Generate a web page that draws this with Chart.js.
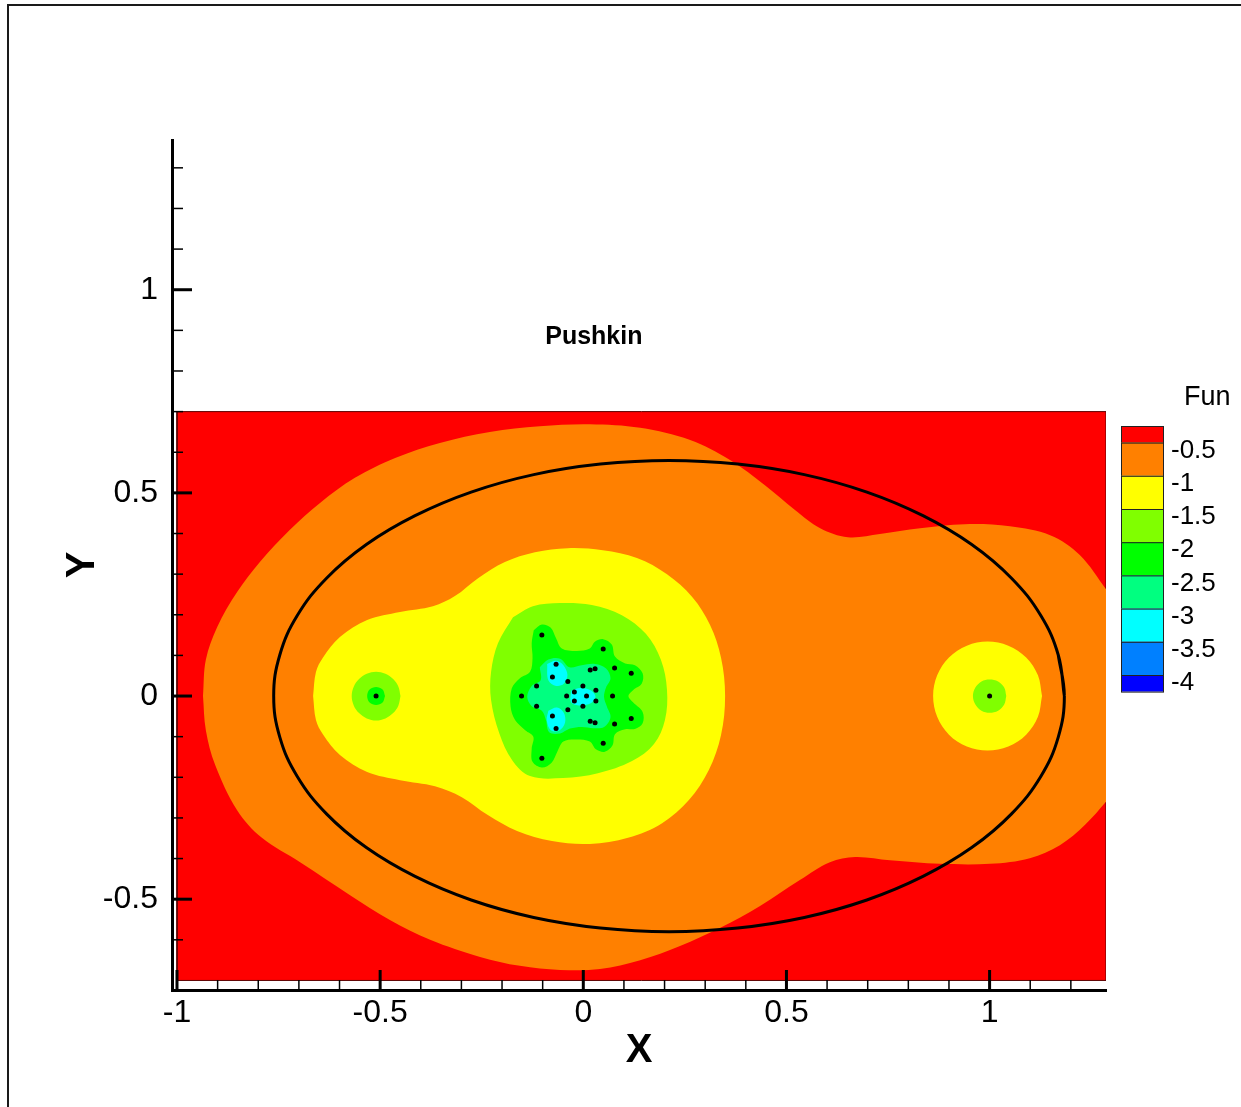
<!DOCTYPE html>
<html>
<head>
<meta charset="utf-8">
<title>Pushkin</title>
<script src="https://cdn.jsdelivr.net/npm/chart.js@4.4.1/dist/chart.umd.min.js"></script>
<style>
  html, body { margin: 0; padding: 0; background: #fff; }
  #wrap { position: relative; width: 1241px; height: 1107px; overflow: hidden; }
  #chart { position: absolute; left: 0; top: 0; }
  #frame { position: absolute; left: 7px; top: 4px; width: 1260px; height: 1130px;
           border-left: 2px solid #1a1a1a; border-top: 2px solid #1a1a1a; pointer-events: none; }
</style>
</head>
<body>
<div id="wrap">
  <canvas id="chart" width="1241" height="1107"></canvas>
  <div id="frame"></div>
</div>
<script>
// contour levels and the colours between them (Tecplot small rainbow)
const levels = [-0.5, -1, -1.5, -2, -2.5, -3, -3.5, -4];
const levelColors = ["#ff0000", "#ff8000", "#ffff00", "#80ff00", "#00ff00", "#00ff80", "#00ffff", "#0080ff", "#0000ff"];

const xTicks = [-1, -0.9, -0.8, -0.7, -0.6, -0.5, -0.4, -0.3, -0.2, -0.1, 0, 0.1, 0.2, 0.3, 0.4, 0.5, 0.6, 0.7, 0.8, 0.9, 1, 1.1, 1.2];
const yTicks = [-0.6, -0.5, -0.4, -0.3, -0.2, -0.1, 0, 0.1, 0.2, 0.3, 0.4, 0.5, 0.6, 0.7, 0.8, 0.9, 1, 1.1, 1.2, 1.3];
const majorTicks = [-1, -0.5, 0, 0.5, 1];

// field domain (everything here is Fun > -0.5)
const redZone = [[-1, -0.7], [1.2865, -0.7], [1.2865, 0.7], [-1, 0.7], [-1, -0.7]];

// Fun < -0.5
const orangeZone = [
    [-0.936, 0], [-0.929, 0.089], [-0.901, 0.170], [-0.852, 0.256], [-0.796, 0.330], [-0.722, 0.409],
    [-0.648, 0.475], [-0.562, 0.537], [-0.463, 0.586], [-0.353, 0.623], [-0.230, 0.650], [-0.107, 0.664],
    [0.016, 0.669], [0.140, 0.660], [0.263, 0.630], [0.361, 0.581], [0.447, 0.519], [0.521, 0.458],
    [0.583, 0.413], [0.651, 0.391], [0.730, 0.399], [0.829, 0.413], [0.939, 0.423], [1.050, 0.418],
    [1.149, 0.396], [1.222, 0.347], [1.300, 0.245], [1.340, 0.200], [1.340, -0.200], [1.300, -0.245],
    [1.235, -0.317], [1.173, -0.367], [1.099, -0.399], [1.001, -0.413], [0.878, -0.413], [0.755, -0.404],
    [0.669, -0.396], [0.607, -0.409], [0.533, -0.453], [0.435, -0.517], [0.336, -0.571], [0.238, -0.615],
    [0.140, -0.650], [0.041, -0.672], [-0.057, -0.674], [-0.156, -0.664], [-0.254, -0.642], [-0.377, -0.600],
    [-0.476, -0.551], [-0.574, -0.490], [-0.697, -0.409], [-0.791, -0.349], [-0.852, -0.281], [-0.906, -0.170],
    [-0.929, -0.084], [-0.936, 0]
];

// Fun < -1
const yellowZone = [
    [-0.665, 0], [-0.658, 0.059], [-0.641, 0.094], [-0.599, 0.145], [-0.532, 0.187], [-0.451, 0.207],
    [-0.370, 0.221], [-0.316, 0.246], [-0.259, 0.290], [-0.193, 0.330], [-0.119, 0.354], [-0.038, 0.364],
    [0.048, 0.359], [0.132, 0.340], [0.206, 0.300], [0.268, 0.244], [0.312, 0.175], [0.339, 0.094],
    [0.349, 0], [0.339, -0.096], [0.309, -0.182], [0.260, -0.256], [0.194, -0.313], [0.110, -0.349],
    [0.016, -0.364], [-0.077, -0.357], [-0.163, -0.332], [-0.235, -0.293], [-0.299, -0.249], [-0.365, -0.222],
    [-0.451, -0.207], [-0.532, -0.187], [-0.599, -0.145], [-0.641, -0.094], [-0.658, -0.059], [-0.665, 0]
];
const yellowRight = [
    [1.129, 0], [1.119, 0.051], [1.090, 0.095], [1.046, 0.124], [0.995, 0.134], [0.944, 0.124],
    [0.900, 0.095], [0.871, 0.051], [0.861, 0], [0.871, -0.051], [0.900, -0.095], [0.944, -0.124],
    [0.995, -0.134], [1.046, -0.124], [1.090, -0.095], [1.119, -0.051], [1.129, 0]
];

// Fun < -1.5
const limeZone = [
    [-0.173, 0.194], [-0.124, 0.221], [-0.057, 0.229], [0.021, 0.224], [0.095, 0.199], [0.154, 0.153],
    [0.191, 0.089], [0.206, 0.015], [0.201, -0.059], [0.174, -0.118], [0.120, -0.160], [0.036, -0.190],
    [-0.050, -0.202], [-0.131, -0.197], [-0.175, -0.158], [-0.207, -0.091], [-0.227, -0.010], [-0.227, 0.059],
    [-0.210, 0.130], [-0.173, 0.194]
];
const limeLeft = [
    [-0.450, 0], [-0.455, 0.023], [-0.468, 0.042], [-0.487, 0.055], [-0.510, 0.060], [-0.533, 0.055],
    [-0.552, 0.042], [-0.565, 0.023], [-0.570, 0], [-0.565, -0.023], [-0.552, -0.042], [-0.533, -0.055],
    [-0.510, -0.060], [-0.487, -0.055], [-0.468, -0.042], [-0.455, -0.023], [-0.450, 0]
];
const limeRight = [
    [1.041, 0], [1.036, 0.021], [1.021, 0.036], [1.000, 0.041], [0.980, 0.036], [0.965, 0.021],
    [0.959, 0], [0.965, -0.021], [0.980, -0.036], [1.000, -0.041], [1.021, -0.036], [1.036, -0.021], [1.041, 0]
];

// Fun < -2
const greenZone = [
    [-0.122, 0.162], [-0.102, 0.176], [-0.080, 0.168], [-0.067, 0.142], [-0.053, 0.117], [-0.016, 0.111],
    [0.016, 0.117], [0.029, 0.134], [0.049, 0.140], [0.070, 0.127], [0.078, 0.097], [0.103, 0.080],
    [0.127, 0.076], [0.146, 0.056], [0.144, 0.031], [0.123, 0.015], [0.111, 0], [0.123, -0.016],
    [0.146, -0.039], [0.146, -0.067], [0.127, -0.081], [0.103, -0.082], [0.078, -0.094], [0.072, -0.121],
    [0.053, -0.137], [0.031, -0.131], [0.016, -0.112], [-0.016, -0.107], [-0.049, -0.112], [-0.064, -0.137],
    [-0.078, -0.164], [-0.102, -0.176], [-0.125, -0.162], [-0.127, -0.129], [-0.123, -0.100], [-0.143, -0.084],
    [-0.168, -0.059], [-0.179, -0.026], [-0.176, 0.019], [-0.156, 0.044], [-0.131, 0.060], [-0.125, 0.093],
    [-0.127, 0.130], [-0.122, 0.162]
];
const greenLeft = [
    [-0.488, 0], [-0.494, 0.016], [-0.510, 0.022], [-0.526, 0.016], [-0.532, 0],
    [-0.526, -0.016], [-0.510, -0.022], [-0.494, -0.016], [-0.488, 0]
];

// Fun < -2.5
const tealZone = [
    [-0.107, 0.071], [-0.086, 0.090], [-0.057, 0.092], [-0.034, 0.071], [-0.004, 0.076], [0.029, 0.079],
    [0.056, 0.068], [0.067, 0.044], [0.056, 0.021], [0.051, -0.002], [0.058, -0.026], [0.067, -0.052],
    [0.051, -0.076], [0.025, -0.079], [-0.004, -0.076], [-0.033, -0.080], [-0.057, -0.092], [-0.084, -0.089],
    [-0.092, -0.059], [-0.102, -0.036], [-0.127, -0.025], [-0.138, -0.002], [-0.127, 0.025], [-0.105, 0.039],
    [-0.107, 0.071]
];

// Fun < -3
const cyanUpper = [[-0.089, 0.079], [-0.067, 0.087], [-0.049, 0.076], [-0.039, 0.052], [-0.048, 0.030], [-0.067, 0.025], [-0.086, 0.039], [-0.089, 0.079]];
const cyanLower = [[-0.086, -0.036], [-0.065, -0.028], [-0.048, -0.041], [-0.045, -0.066], [-0.059, -0.085], [-0.080, -0.084], [-0.090, -0.059], [-0.086, -0.036]];
const cyanMiddle = [[-0.030, 0.013], [-0.008, 0.020], [0.018, 0.014], [0.030, -0.002], [0.018, -0.018], [-0.008, -0.023], [-0.030, -0.015], [-0.030, 0.013]];

// the black boundary curve
const ellipse = [
    [1.184, 0], [1.169, 0.101], [1.126, 0.198], [1.054, 0.290], [0.956, 0.373], [0.836, 0.444],
    [0.698, 0.502], [0.544, 0.545], [0.380, 0.571], [0.211, 0.580], [0.042, 0.571], [-0.122, 0.545],
    [-0.276, 0.502], [-0.414, 0.444], [-0.534, 0.373], [-0.632, 0.290], [-0.704, 0.198], [-0.747, 0.101],
    [-0.762, 0], [-0.747, -0.101], [-0.704, -0.198], [-0.632, -0.290], [-0.534, -0.373], [-0.414, -0.444],
    [-0.276, -0.502], [-0.122, -0.545], [0.042, -0.571], [0.211, -0.580], [0.380, -0.571], [0.544, -0.545],
    [0.698, -0.502], [0.836, -0.444], [0.956, -0.373], [1.054, -0.290], [1.126, -0.198], [1.169, -0.101],
    [1.184, 0], [1.169, 0.101]
];

// point sources
const sources = [
    [-0.510, 0], [1.0, 0],
    [-0.102, 0.150], [0.049, 0.116], [-0.067, 0.078], [-0.076, 0.047], [-0.038, 0.036], [0.017, 0.064],
    [0.029, 0.067], [0.077, 0.069], [0.118, 0.056], [-0.115, 0.025], [-0.001, 0.025], [0.031, 0.014],
    [-0.022, 0.010], [-0.152, 0], [-0.041, 0], [0.008, 0], [0.072, 0], [-0.022, -0.012],
    [0.031, -0.012], [-0.115, -0.025], [-0.001, -0.025], [-0.038, -0.034], [-0.076, -0.049], [0.118, -0.055],
    [0.017, -0.062], [0.029, -0.066], [0.077, -0.069], [-0.067, -0.080], [0.049, -0.116], [-0.102, -0.153]
];

const titleText = "Pushkin";
const titleAt = [0.026, 0.884];

const toXY = (pairs) => pairs.map(p => ({x: p[0], y: p[1]}));

const makeZone = (label, pairs, color, order, extra) => Object.assign({
    label: label,
    data: toXY(pairs),
    showLine: true,
    fill: "shape",
    backgroundColor: color,
    borderColor: color,
    borderWidth: 0,
    pointRadius: 0,
    pointHoverRadius: 0,
    tension: 0.35,
    order: order,
}, extra || {});

const datasets = [
    makeZone("Fun > -0.5", redZone, levelColors[0], 30, {tension: 0, borderWidth: 1, borderColor: "#5a0000"}),
    makeZone("-1 .. -0.5", orangeZone, levelColors[1], 29),
    makeZone("-1.5 .. -1", yellowZone, levelColors[2], 28),
    makeZone("-1.5 .. -1 (right)", yellowRight, levelColors[2], 27),
    makeZone("-2 .. -1.5", limeZone, levelColors[3], 26),
    makeZone("-2 .. -1.5 (left)", limeLeft, levelColors[3], 25),
    makeZone("-2 .. -1.5 (right)", limeRight, levelColors[3], 24),
    makeZone("-2.5 .. -2", greenZone, levelColors[4], 23),
    makeZone("-2.5 .. -2 (left)", greenLeft, levelColors[4], 22),
    makeZone("-3 .. -2.5", tealZone, levelColors[5], 21),
    makeZone("-3.5 .. -3 a", cyanUpper, levelColors[6], 20),
    makeZone("-3.5 .. -3 b", cyanLower, levelColors[6], 19),
    makeZone("-3.5 .. -3 c", cyanMiddle, levelColors[6], 18),
    {
        label: "boundary",
        data: toXY(ellipse),
        showLine: true,
        fill: false,
        borderColor: "#000",
        borderWidth: 3,
        pointRadius: 0,
        tension: 0.4,
        order: 2,
    },
    {
        label: "sources",
        data: toXY(sources),
        showLine: false,
        backgroundColor: "#000",
        borderWidth: 0,
        pointRadius: 2.5,
        order: 1,
    },
];

// inward tick marks, the contour legend and the plot title
const decorPlugin = {
    id: "decor",
    afterDatasetsDraw(chart) {
        const {ctx, chartArea, scales} = chart;
        ctx.save();
        ctx.strokeStyle = "#000";
        xTicks.forEach(v => {
            const major = majorTicks.includes(v);
            const px = scales.x.getPixelForValue(v);
            ctx.lineWidth = major ? 3 : 1.5;
            ctx.beginPath();
            ctx.moveTo(px, chartArea.bottom);
            ctx.lineTo(px, chartArea.bottom - (major ? 20 : 10));
            ctx.stroke();
        });
        yTicks.forEach(v => {
            const major = majorTicks.includes(v);
            const py = scales.y.getPixelForValue(v);
            ctx.lineWidth = major ? 3 : 1.5;
            ctx.beginPath();
            ctx.moveTo(chartArea.left, py);
            ctx.lineTo(chartArea.left + (major ? 20 : 11), py);
            ctx.stroke();
        });
        ctx.restore();
    },
    afterDraw(chart) {
        const {ctx, scales} = chart;
        ctx.save();

        ctx.fillStyle = "#000";
        ctx.font = "bold 25px 'Liberation Sans', Arial, sans-serif";
        ctx.textAlign = "center";
        ctx.textBaseline = "middle";
        ctx.fillText(titleText, scales.x.getPixelForValue(titleAt[0]), scales.y.getPixelForValue(titleAt[1]));

        const boxLeft = 1121, boxWidth = 42, boxTop = 426, step = 33.2;
        let top = boxTop;
        levelColors.forEach((color, i) => {
            const h = (i === 0 || i === levelColors.length - 1) ? step / 2 : step;
            ctx.fillStyle = color;
            ctx.fillRect(boxLeft, top, boxWidth, h);
            ctx.strokeStyle = "#222";
            ctx.lineWidth = 1;
            ctx.strokeRect(boxLeft + 0.5, top + 0.5, boxWidth, h);
            top += h;
        });

        ctx.fillStyle = "#000";
        ctx.textAlign = "left";
        ctx.font = "26px 'Liberation Sans', Arial, sans-serif";
        levels.forEach((lv, i) => {
            const yb = boxTop + step / 2 + i * step;
            ctx.fillText(String(lv), 1171, yb + 8);
        });
        ctx.font = "27px 'Liberation Sans', Arial, sans-serif";
        ctx.fillText("Fun", 1184, 398);
        ctx.restore();
    },
};

const tickFont = {family: "'Liberation Sans', Arial, sans-serif", size: 32};
const axisTitleFont = {family: "'Liberation Sans', Arial, sans-serif", size: 40, weight: "bold"};

new Chart(document.getElementById("chart").getContext("2d"), {
    type: "scatter",
    data: {datasets: datasets},
    options: {
        responsive: false,
        animation: false,
        devicePixelRatio: 1,
        events: [],
        layout: {padding: {left: 0, top: 140, right: 135, bottom: 0}},
        plugins: {
            legend: {display: false},
            tooltip: {enabled: false},
        },
        scales: {
            x: {
                type: "linear",
                position: "bottom",
                min: -1.0123,
                max: 1.2865,
                afterBuildTicks: (scale) => { scale.ticks = xTicks.map(v => ({value: v})); },
                afterFit: (scale) => { scale.height = 117; },
                grid: {display: false, drawTicks: false},
                border: {display: true, color: "#000", width: 3},
                ticks: {
                    autoSkip: false,
                    maxRotation: 0,
                    padding: 4,
                    color: "#000",
                    font: tickFont,
                    callback: (v) => majorTicks.includes(v) ? String(v) : "",
                },
                title: {display: true, text: "X", color: "#000", font: axisTitleFont, padding: {top: 0, bottom: 32}},
            },
            y: {
                type: "linear",
                position: "left",
                min: -0.7235,
                max: 1.3685,
                afterBuildTicks: (scale) => { scale.ticks = yTicks.map(v => ({value: v})); },
                afterFit: (scale) => { scale.width = 172; },
                grid: {display: false, drawTicks: false},
                border: {display: true, color: "#000", width: 3},
                ticks: {
                    autoSkip: false,
                    padding: 14,
                    color: "#000",
                    font: tickFont,
                    callback: (v) => majorTicks.includes(v) ? String(v) : "",
                },
                title: {display: true, text: "Y", color: "#000", font: axisTitleFont, padding: {top: 59, bottom: 0}},
            },
        },
    },
    plugins: [decorPlugin],
});
</script>
</body>
</html>
